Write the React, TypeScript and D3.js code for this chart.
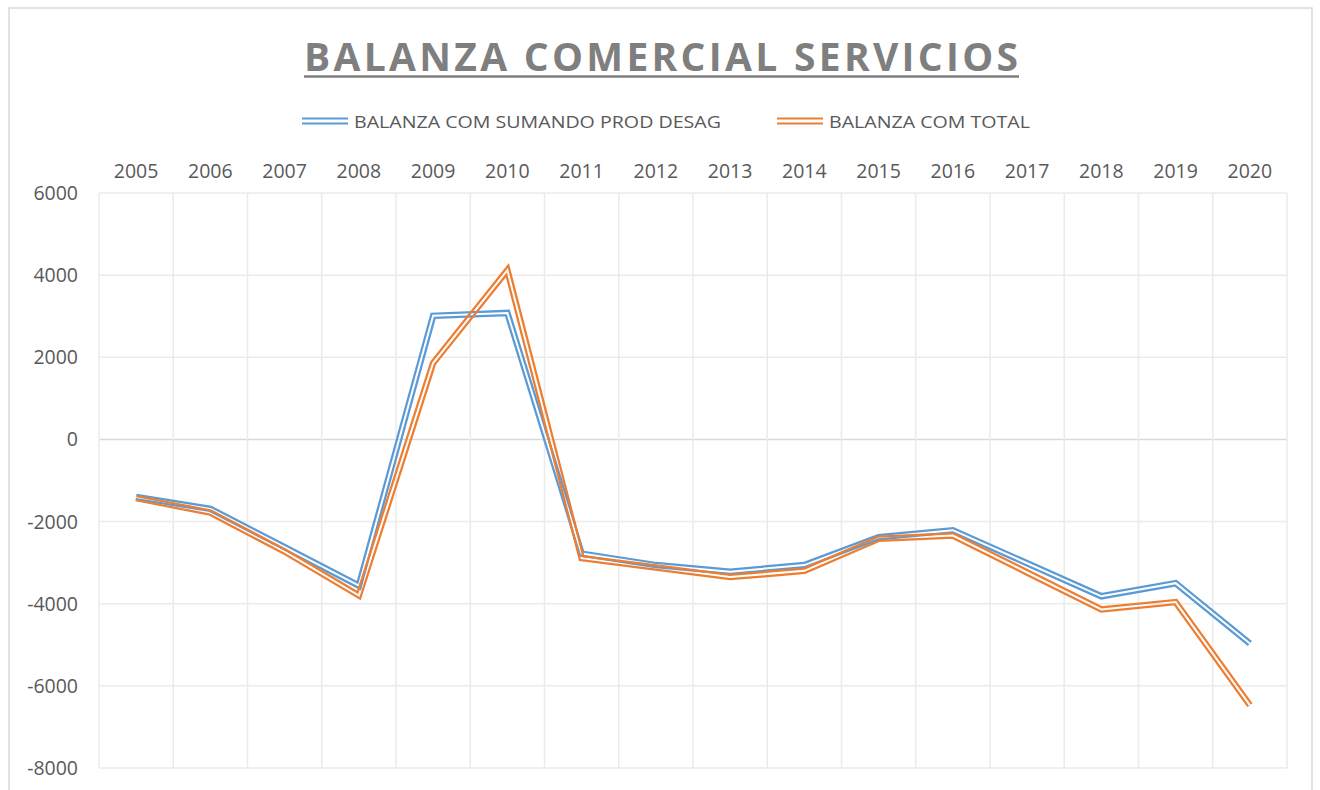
import React from "react";
import * as d3 from "d3";

const years = ["2005","2006","2007","2008","2009","2010","2011","2012","2013","2014","2015","2016","2017","2018","2019","2020"];
const sumandoValues = [-1400,-1690,-2620,-3560,3010,3080,-2780,-3060,-3220,-3060,-2380,-2210,-3015,-3820,-3500,-4970];
const totalValues = [-1430,-1780,-2730,-3800,1860,4120,-2890,-3120,-3350,-3200,-2420,-2340,-3240,-4140,-3960,-6470];
const yTicks = [6000,4000,2000,0,-2000,-4000,-6000,-8000];
const seriesNames = ["BALANZA COM SUMANDO PROD DESAG","BALANZA COM TOTAL"];
const seriesColors = ["#5b9bd5","#ed7d31"];

const W = 1320, H = 790;
const plot = { left: 99, right: 1287, top: 193, bottom: 768 };
const FONT = "'Open Sans', sans-serif";

export default function App() {
  const x = d3.scaleBand<string>().domain(years).range([plot.left, plot.right]).padding(0);
  const y = d3.scaleLinear().domain([-8000, 6000]).range([plot.bottom, plot.top]);
  const line = d3.line<number>()
    .x((_, i) => (x(years[i]) as number) + x.bandwidth() / 2)
    .y((d) => y(d));
  const series = [sumandoValues, totalValues];
  const boundaries = d3.range(years.length + 1).map((i) => plot.left + i * x.bandwidth());

  const legendItems = [
    { sx: 302, tx: 354, tw: 367 },
    { sx: 777, tx: 829, tw: 201 },
  ];

  return (
    <svg width={W} height={H} style={{ position: "absolute", left: 0, top: 0 }}>
      <rect x={0} y={0} width={W} height={H} fill="#ffffff" />
      <rect x={9} y={8} width={1303} height={800} fill="#ffffff" stroke="#d9d9d9" strokeWidth={1.5} />
      {/* title */}
      <text x={304} y={71} fontFamily={FONT} fontWeight={700} fontSize={39} fill="#7f7f7f"
        textLength={714} lengthAdjust="spacing">BALANZA COMERCIAL SERVICIOS</text>
      <line x1={304} x2={1019} y1={76.5} y2={76.5} stroke="#7f7f7f" strokeWidth={2.5} />
      {/* legend */}
      {legendItems.map((it, i) => (
        <g key={i}>
          <line x1={it.sx} x2={it.sx + 46} y1={118.5} y2={118.5} stroke={seriesColors[i]} strokeWidth={2.2} />
          <line x1={it.sx} x2={it.sx + 46} y1={123.5} y2={123.5} stroke={seriesColors[i]} strokeWidth={2.2} />
          <text x={it.tx} y={128} fontFamily={FONT} fontSize={17} fill="#595959"
            textLength={it.tw} lengthAdjust="spacingAndGlyphs">{seriesNames[i]}</text>
        </g>
      ))}
      {/* gridlines */}
      {yTicks.map((t) => (
        <line key={"h" + t} x1={plot.left} x2={plot.right} y1={y(t)} y2={y(t)}
          stroke={t === 0 ? "#d9d9d9" : "#ebebeb"} strokeWidth={1.5} />
      ))}
      {boundaries.map((bx, i) => (
        <line key={"v" + i} x1={bx} x2={bx} y1={plot.top} y2={plot.bottom} stroke="#ebebeb" strokeWidth={1.5} />
      ))}
      {/* axis labels */}
      {years.map((yr) => (
        <text key={yr} x={(x(yr) as number) + x.bandwidth() / 2} y={178} textAnchor="middle"
          fontFamily={FONT} fontSize={19.5} fill="#595959">{yr}</text>
      ))}
      {yTicks.map((t) => (
        <text key={"yl" + t} x={78} y={y(t) + 7} textAnchor="end"
          fontFamily={FONT} fontSize={19.5} fill="#595959">{t}</text>
      ))}
      {/* series as double lines */}
      <defs>
        {series.map((vals, i) => (
          <mask key={i} id={"gap" + i} maskUnits="userSpaceOnUse" x={0} y={0} width={W} height={H}>
            <rect x={0} y={0} width={W} height={H} fill="white" />
            <path d={line(vals) as string} fill="none" stroke="black" strokeWidth={2}
              strokeLinejoin="miter" strokeMiterlimit={10} />
          </mask>
        ))}
      </defs>
      {series.map((vals, i) => (
        <path key={i} d={line(vals) as string} fill="none" stroke={seriesColors[i]} strokeWidth={6.5}
          strokeLinejoin="miter" strokeMiterlimit={10} mask={`url(#gap${i})`} />
      ))}
    </svg>
  );
}
